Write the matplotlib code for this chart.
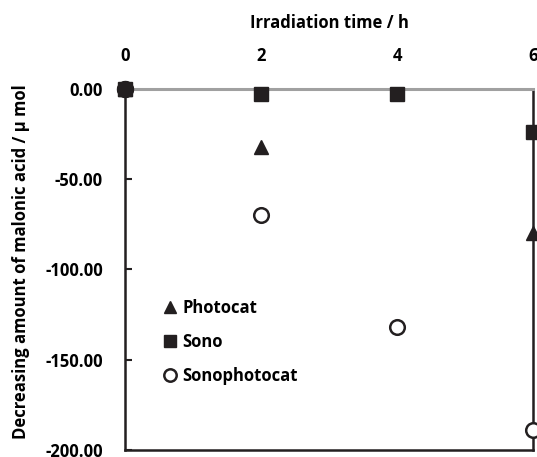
import numpy as np
import matplotlib.pyplot as plt

# values
time_h = [0, 2, 4, 6]
photocat = [0, -32, np.nan, -80]
sono = [0, -3, -3, -24]
sonophotocat = [0, -70, -132, -189]

x_ticks = [0, 2, 4, 6]
y_ticks = [0, -50, -100, -150, -200]

plt.rcParams['font.family'] = ['Open Sans', 'DejaVu Sans']
plt.rcParams['font.weight'] = 'bold'

fig = plt.figure(figsize=(5.37, 4.57), dpi=100)
ax = fig.add_axes([0.2328, 0.0153, 0.7598, 0.79])

ax.plot(time_h, photocat, linestyle='none', marker='^', color='#231f20',
        markersize=10.5, clip_on=False, label='Photocat', zorder=3)
ax.plot(time_h, sono, linestyle='none', marker='s', color='#231f20',
        markersize=10.5, clip_on=False, label='Sono', zorder=3)
ax.plot(time_h, sonophotocat, linestyle='none', marker='o', markerfacecolor='white',
        markeredgecolor='#231f20', markeredgewidth=1.8, markersize=10.5,
        clip_on=False, label='Sonophotocat', zorder=3)
# the shared starting point shows as a solid dot
ax.plot(time_h[:1], sonophotocat[:1], linestyle='none', marker='o', color='#231f20',
        markersize=11.5, clip_on=False, zorder=4)

ax.set_xlim(0, 6)
ax.set_ylim(-200, 0)

ax.xaxis.tick_top()
ax.xaxis.set_label_position('top')
ax.set_xticks(x_ticks)
ax.set_xticklabels([str(t) for t in x_ticks], fontsize=12, fontweight='bold')
ax.set_yticks(y_ticks)
ax.set_yticklabels([f'{v:.2f}' for v in y_ticks], fontsize=12, fontweight='bold')
ax.tick_params(axis='x', length=0, pad=17)
ax.tick_params(axis='y', direction='in', length=5, width=1.5, pad=16, color='#231f20')

ax.set_xlabel('Irradiation time / h', fontsize=12, fontweight='bold', labelpad=14)
ax.set_ylabel('Decreasing amount of malonic acid / \u03bc mol', fontsize=12,
              fontweight='bold')
ax.yaxis.set_label_coords(-0.233, 0.523)

for side in ['left', 'right', 'bottom']:
    ax.spines[side].set_color('#231f20')
    ax.spines[side].set_linewidth(1.8)
ax.spines['top'].set_color('#a0a0a0')
ax.spines['top'].set_linewidth(2.2)

leg = ax.legend(loc='upper left', bbox_to_anchor=(0.058, 0.46), frameon=False,
                handlelength=0.8, handletextpad=0.3, labelspacing=0.95,
                markerscale=0.85, prop={'weight': 'bold', 'size': 12})

fig.savefig('out.png', dpi=100)
